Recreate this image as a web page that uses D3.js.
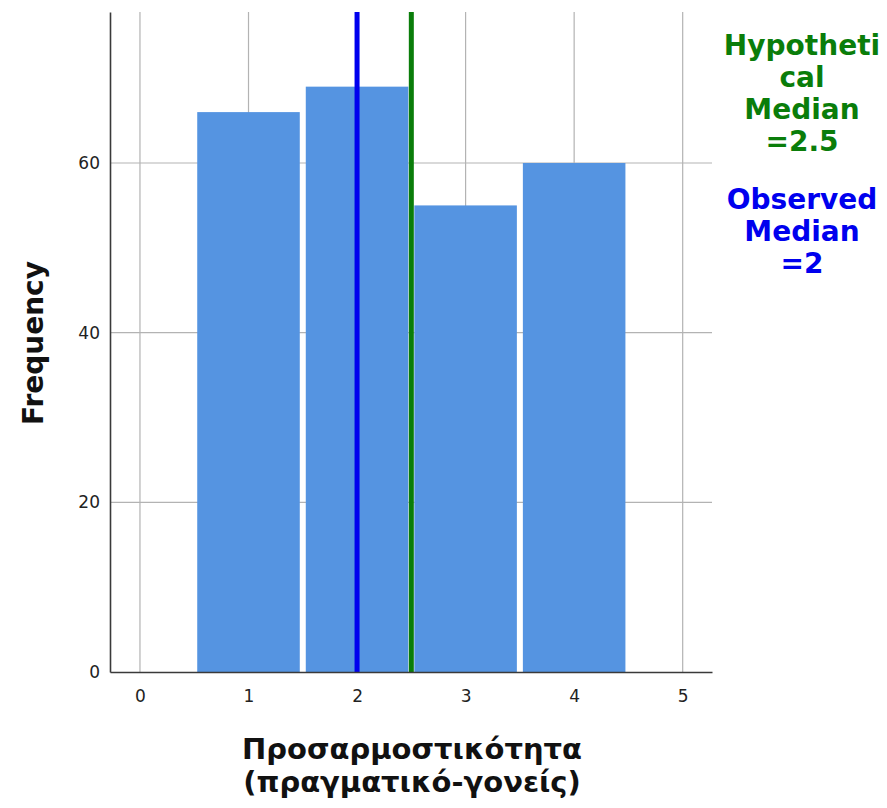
<!DOCTYPE html>
<html>
<head>
<meta charset="utf-8">
<script src="https://cdn.jsdelivr.net/npm/d3@7"></script>
<style>
  html, body { margin: 0; padding: 0; background: #fff; }
  svg { display: block; }
</style>
</head>
<body>
<svg id="chart" width="887" height="808"></svg>
<script>
// ---- data ----
const categories = [1, 2, 3, 4];
const frequencies = [66, 69, 55, 60];
const xTickValues = [0, 1, 2, 3, 4, 5];
const yTickValues = [0, 20, 40, 60];
const observedMedian = 2;
const hypotheticalMedian = 2.5;
const hypoLabel = ["Hypotheti", "cal", "Median", "=2.5"];
const obsLabel = ["Observed", "Median", "=2"];
const xTitle = ["Προσαρμοστικότητα", "(πραγματικό-γονείς)"];
const yTitle = "Frequency";

// ---- layout ----
const svg = d3.select("#chart");
const plotLeft = 110, plotRight = 712, plotTop = 12, plotBottom = 672;

const x = d3.scaleLinear().domain([-0.276, 5.27]).range([plotLeft, plotRight]);
const y = d3.scaleLinear().domain([0, 77.8]).range([plotBottom, plotTop]);

const gridColor = "#b3b3b3";
const axisColor = "#3a3a3a";

// vertical gridlines
svg.append("g").selectAll("line").data(xTickValues).join("line")
  .attr("x1", d => x(d)).attr("x2", d => x(d))
  .attr("y1", plotTop).attr("y2", plotBottom)
  .attr("stroke", gridColor).attr("stroke-width", 1.2);

// horizontal gridlines
svg.append("g").selectAll("line").data(yTickValues.filter(d => d > 0)).join("line")
  .attr("x1", plotLeft).attr("x2", plotRight)
  .attr("y1", d => y(d)).attr("y2", d => y(d))
  .attr("stroke", gridColor).attr("stroke-width", 1.2);

// bars
const gap = 3;
svg.append("g").selectAll("rect").data(categories).join("rect")
  .attr("x", d => x(d - 0.5) + gap)
  .attr("width", d => x(d + 0.5) - x(d - 0.5) - 2 * gap)
  .attr("y", (d, i) => y(frequencies[i]))
  .attr("height", (d, i) => y(0) - y(frequencies[i]))
  .attr("fill", "#5594e1");

// median lines
svg.append("line")
  .attr("x1", x(observedMedian)).attr("x2", x(observedMedian))
  .attr("y1", plotTop).attr("y2", plotBottom)
  .attr("stroke", "#0000ee").attr("stroke-width", 5);
svg.append("line")
  .attr("x1", x(hypotheticalMedian)).attr("x2", x(hypotheticalMedian))
  .attr("y1", plotTop).attr("y2", plotBottom)
  .attr("stroke", "#0a7d0a").attr("stroke-width", 5);

// axes
const xAxis = svg.append("g").attr("transform", `translate(0,${plotBottom})`)
  .call(d3.axisBottom(x).tickValues(xTickValues).tickSize(0).tickPadding(18).tickFormat(d3.format("d")));
xAxis.select(".domain").attr("stroke", axisColor).attr("stroke-width", 1.6);
xAxis.selectAll("text").attr("font-family", "DejaVu Sans, sans-serif").attr("font-size", 17).attr("fill", "#222");

const yAxis = svg.append("g").attr("transform", `translate(${plotLeft},0)`)
  .call(d3.axisLeft(y).tickValues(yTickValues).tickSize(0).tickPadding(10).tickFormat(d3.format("d")));
yAxis.select(".domain").attr("stroke", axisColor).attr("stroke-width", 1.6);
yAxis.selectAll("text").attr("font-family", "DejaVu Sans, sans-serif").attr("font-size", 17).attr("fill", "#222");

// axis titles
svg.append("text")
  .attr("transform", `translate(43,343) rotate(-90)`)
  .attr("text-anchor", "middle")
  .attr("font-family", "DejaVu Sans, sans-serif").attr("font-weight", "bold")
  .attr("font-size", 28).attr("fill", "#111")
  .text(yTitle);

svg.append("g").selectAll("text").data(xTitle).join("text")
  .attr("x", 412).attr("y", (d, i) => 759 + i * 33)
  .attr("text-anchor", "middle")
  .attr("font-family", "DejaVu Sans, sans-serif").attr("font-weight", "bold")
  .attr("font-size", 29).attr("fill", "#111")
  .text(d => d);

// median annotations
svg.append("g").selectAll("text").data(hypoLabel).join("text")
  .attr("x", 802).attr("y", (d, i) => 55 + i * 32)
  .attr("text-anchor", "middle")
  .attr("font-family", "DejaVu Sans, sans-serif").attr("font-weight", "bold")
  .attr("font-size", 28).attr("fill", "#0a7d0a")
  .text(d => d);

svg.append("g").selectAll("text").data(obsLabel).join("text")
  .attr("x", 802).attr("y", (d, i) => 209 + i * 32)
  .attr("text-anchor", "middle")
  .attr("font-family", "DejaVu Sans, sans-serif").attr("font-weight", "bold")
  .attr("font-size", 28).attr("fill", "#0000ee")
  .text(d => d);
</script>
</body>
</html>
